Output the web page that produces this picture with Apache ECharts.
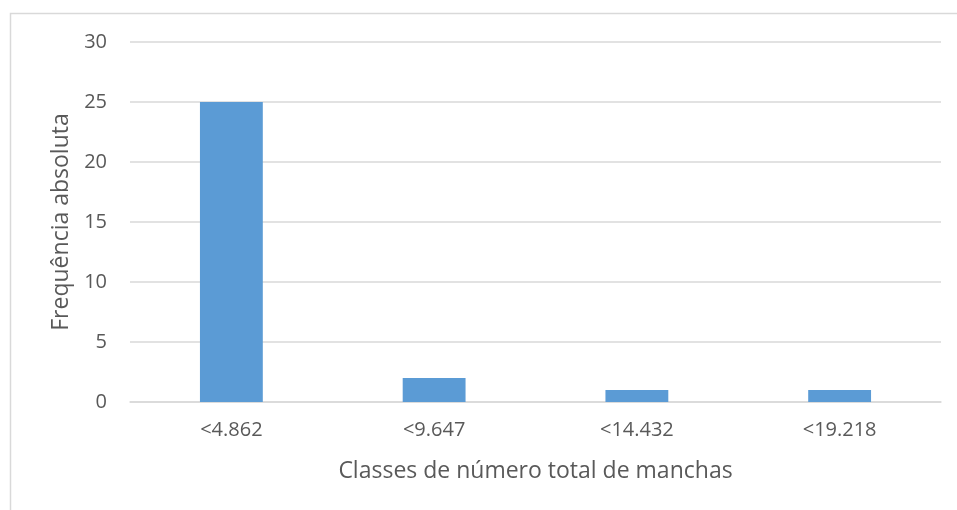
<!DOCTYPE html>
<html>
<head>
<meta charset="utf-8">
<script src="https://cdn.jsdelivr.net/npm/echarts@6/dist/echarts.min.js"></script>
<style>
  html, body { margin: 0; padding: 0; background: #fff; }
  #chart { width: 957px; height: 510px; }
</style>
</head>
<body>
<div id="chart"></div>
<script>
  var classes = ['<4.862', '<9.647', '<14.432', '<19.218'];
  var freq = [25, 2, 1, 1];
  var yTicks = { min: 0, max: 30, step: 5 };

  var chart = echarts.init(document.getElementById('chart'));
  var txt = '#595959';
  var font = 'Open Sans';

  chart.setOption({
    animation: false,
    graphic: [{
      type: 'rect',
      shape: { x: 10.5, y: 13.5, width: 960, height: 520 },
      style: { fill: 'none', stroke: '#d9d9d9', lineWidth: 1.5 },
      silent: true
    }],
    grid: { left: 130, right: 16, top: 42, bottom: 108 },
    xAxis: {
      type: 'category',
      data: classes,
      name: 'Classes de número total de manchas',
      nameLocation: 'middle',
      nameGap: 58,
      nameTextStyle: { color: txt, fontSize: 23, fontFamily: font },
      axisLine: { lineStyle: { color: '#d9d9d9', width: 1.5 } },
      axisTick: { show: false },
      axisLabel: { color: txt, fontSize: 20, fontFamily: font, margin: 18 }
    },
    yAxis: {
      type: 'value',
      min: yTicks.min,
      max: yTicks.max,
      interval: yTicks.step,
      name: 'Frequência absoluta',
      nameLocation: 'middle',
      nameGap: 55,
      nameTextStyle: { color: txt, fontSize: 23, fontFamily: font },
      axisLine: { show: false },
      axisTick: { show: false },
      axisLabel: { color: txt, fontSize: 20, fontFamily: font, margin: 23 },
      splitLine: { lineStyle: { color: '#d9d9d9', width: 1.5 } }
    },
    series: [{
      type: 'bar',
      data: freq,
      barWidth: '31%',
      itemStyle: { color: '#5b9bd5' }
    }]
  });
</script>
</body>
</html>
